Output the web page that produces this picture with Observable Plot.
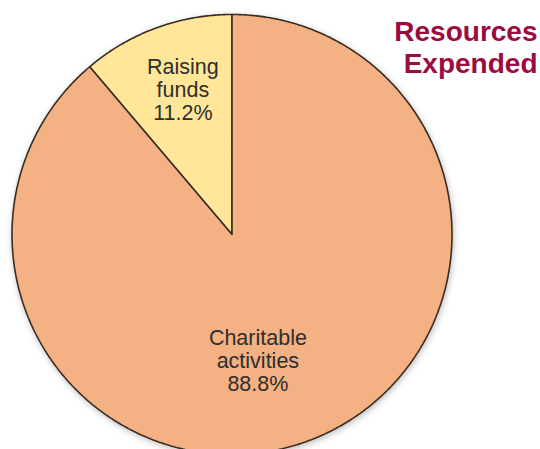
<!DOCTYPE html>
<html>
<head>
<meta charset="utf-8">
<script src="https://cdn.jsdelivr.net/npm/d3@7"></script>
<script src="https://cdn.jsdelivr.net/npm/@observablehq/plot@0.6"></script>
<style>
  html, body { margin: 0; padding: 0; background: #fff; overflow: hidden; }
  #chart svg { display: block; overflow: visible; }
</style>
</head>
<body>
<div id="chart"></div>
<script>
// ---- data ----
const categories = ["Raising funds", "Charitable activities"];
const shares = [11.2, 88.8];
const labelTexts = ["Raising\nfunds\n11.2%", "Charitable\nactivities\n88.8%"];
const titleLines = ["Resources", "Expended"];

// ---- style / layout constants ----
const sliceColors = ["#FFE699", "#F4B183"];
const labelPolar = [{angle: -18.7, r: 0.696}, {angle: 168.4, r: 0.585}];

const rows = categories.map((c, i) => ({category: c, share: shares[i], text: labelTexts[i]}));
const startAngle = -2 * Math.PI * shares[0] / 100;
const arcs = d3.pie().sort(null).value(d => d.share)
  .startAngle(startAngle).endAngle(startAngle + 2 * Math.PI)(rows);

// outline points for each slice (center -> arc -> center)
const slicePts = [];
arcs.forEach(a => {
  const n = Math.max(8, Math.ceil((a.endAngle - a.startAngle) / (Math.PI / 360)));
  slicePts.push({category: a.data.category, x: 0, y: 0});
  for (let k = 0; k <= n; k++) {
    const t = a.startAngle + (a.endAngle - a.startAngle) * k / n;
    slicePts.push({category: a.data.category, x: Math.sin(t), y: Math.cos(t)});
  }
  slicePts.push({category: a.data.category, x: 0, y: 0});
});

const labels = rows.map((d, i) => {
  const t = labelPolar[i].angle * Math.PI / 180;
  return {text: d.text, x: labelPolar[i].r * Math.sin(t), y: labelPolar[i].r * Math.cos(t)};
});

const cx = 231.5, cy = 234, R = 220;
const plot = Plot.plot({
  width: 540,
  height: 449,
  margin: 0,
  style: {fontFamily: "Arial, 'Liberation Sans', sans-serif", background: "transparent"},
  x: {domain: [-1, 1], range: [cx - R, cx + R], axis: null},
  y: {domain: [-1, 1], range: [cy + R, cy - R], axis: null},
  color: {domain: categories, range: sliceColors},
  marks: [
    Plot.line(slicePts, {x: "x", y: "y", z: "category", fill: "category",
      stroke: "#3a2c22", strokeWidth: 1.6, strokeLinejoin: "miter", curve: "linear"}),
    Plot.text(labels, {x: "x", y: "y", text: "text", fontSize: 21.5, lineHeight: 1.09,
      fill: "#2e2e2e", textAnchor: "middle"}),
    Plot.text([titleLines.join("\n")], {frameAnchor: "top-right", text: d => d,
      textAnchor: "end", lineAnchor: "top", dx: -3, dy: 18, fontSize: 28,
      fontWeight: "bold", lineHeight: 1.14, fill: "#9C0B3F"})
  ]
});
d3.select(plot).selectAll("g[aria-label='line']")
  .style("filter", "drop-shadow(1px 2px 3px rgba(0,0,0,0.25))");
document.getElementById("chart").appendChild(plot);
</script>
</body>
</html>
